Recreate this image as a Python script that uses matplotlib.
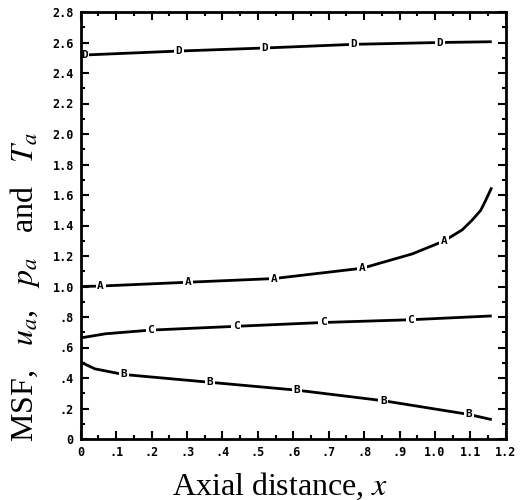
import numpy as np
import matplotlib
matplotlib.use('Agg')
import matplotlib.pyplot as plt
from matplotlib.ticker import MultipleLocator

# curve D (top)
d_x = [0.01, 0.277, 0.52, 0.771, 1.013, 1.16]
d_y = [2.518, 2.544, 2.564, 2.588, 2.600, 2.605]
d_mark = [0, 1, 2, 3, 4]

# curve A
a_x = [0.0, 0.056, 0.303, 0.545, 0.795, 0.936, 1.025, 1.077, 1.105, 1.129, 1.143, 1.16]
a_y = [1.0, 1.003, 1.028, 1.052, 1.12, 1.214, 1.298, 1.372, 1.436, 1.50, 1.565, 1.65]
a_mark = [1, 2, 3, 4, 6]

# curve C
c_x = [0.0, 0.07, 0.197, 0.439, 0.684, 0.931, 1.16]
c_y = [0.663, 0.69, 0.714, 0.739, 0.764, 0.782, 0.807]
c_mark = [2, 3, 4, 5]

# curve B
b_x = [0.0, 0.04, 0.121, 0.364, 0.611, 0.854, 1.096, 1.16]
b_y = [0.504, 0.46, 0.423, 0.372, 0.32, 0.251, 0.161, 0.127]
b_mark = [2, 3, 4, 5, 6]

x_ticks = [0, .1, .2, .3, .4, .5, .6, .7, .8, .9, 1.0, 1.1, 1.2]
x_labels = ['0', '.1', '.2', '.3', '.4', '.5', '.6', '.7', '.8', '.9', '1.0', '1.1', '1.2']
y_ticks = [0, .2, .4, .6, .8, 1.0, 1.2, 1.4, 1.6, 1.8, 2.0, 2.2, 2.4, 2.6, 2.8]
y_labels = ['0', '.2', '.4', '.6', '.8', '1.0', '1.2', '1.4', '1.6', '1.8', '2.0', '2.2', '2.4', '2.6', '2.8']

plt.rcParams['mathtext.fontset'] = 'stix'

fig = plt.figure(figsize=(5.21, 5.0), dpi=100)
ax = fig.add_axes([0.155, 0.122, 0.816, 0.854])

curves = [(d_x, d_y, d_mark, 'D'), (a_x, a_y, a_mark, 'A'),
          (c_x, c_y, c_mark, 'C'), (b_x, b_y, b_mark, 'B')]
for xs, ys, marks, letter in curves:
    ax.plot(xs, ys, color='black', lw=2, solid_capstyle='butt', zorder=2)
    for i in marks:
        ax.text(xs[i], ys[i], letter, fontsize=8, fontweight='bold',
                family='DejaVu Sans Mono', ha='center', va='center',
                bbox=dict(boxstyle='square,pad=0.15', fc='white', ec='none'),
                zorder=2.2)

ax.set_xlim(0, 1.2)
ax.set_ylim(0, 2.8)
ax.set_xticks(x_ticks)
ax.set_xticklabels(x_labels)
ax.set_yticks(y_ticks)
ax.set_yticklabels(y_labels)
ax.xaxis.set_minor_locator(MultipleLocator(0.05))
ax.yaxis.set_minor_locator(MultipleLocator(0.1))
ax.tick_params(which='both', direction='in', top=True, right=True, width=1.5)
ax.tick_params(which='major', length=6, pad=5)
ax.tick_params(which='minor', length=3)
for lab in ax.get_xticklabels() + ax.get_yticklabels():
    lab.set_family('DejaVu Sans Mono')
    lab.set_fontweight('bold')
    lab.set_fontsize(8.5)
for sp in ax.spines.values():
    sp.set_linewidth(2)
    sp.set_zorder(3)

ax.set_xlabel('Axial distance, $x$', family='Liberation Serif', fontsize=23)
ax.xaxis.set_label_coords(0.469, -0.073)
ax.set_ylabel('MSF,   $u_a$,   $p_a$   and   $T_a$', family='Liberation Serif', fontsize=23)
ax.yaxis.set_label_coords(-0.092, 0.355)

fig.savefig('out.png', dpi=100)
